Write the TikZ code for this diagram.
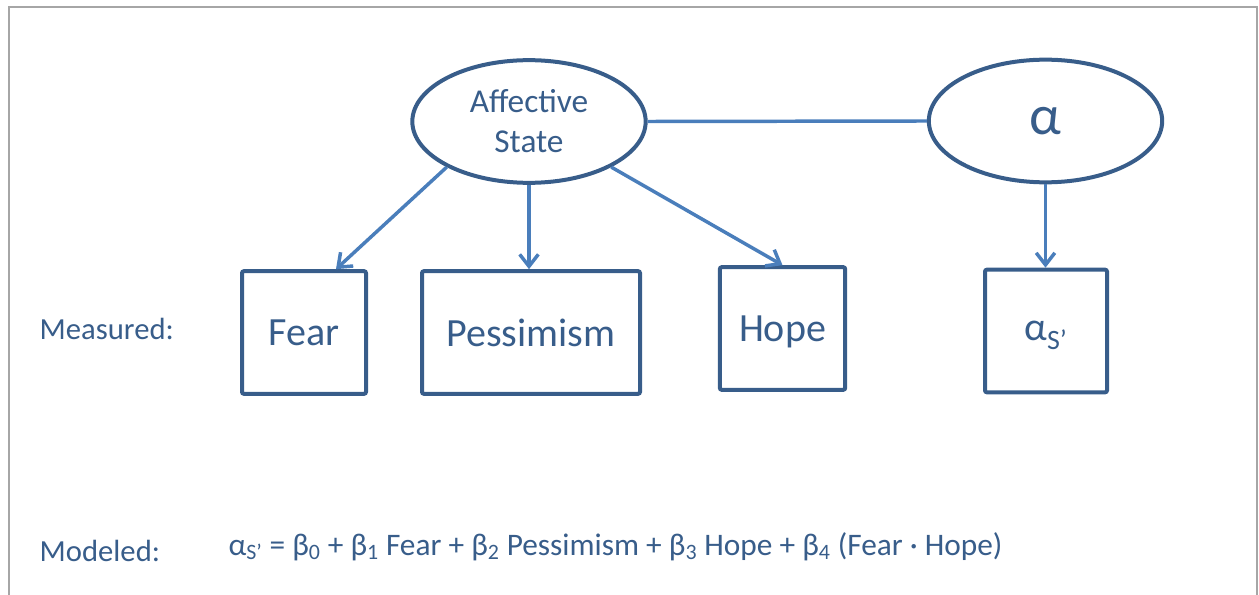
\documentclass[tikz,border=0pt]{standalone}
\usepackage{fontspec}
\setmainfont{Carlito}
\usepackage{tikz}
\usetikzlibrary{shapes,shapes.geometric}
\usetikzlibrary{arrows.meta}
\usetikzlibrary{calc}
\definecolor{outlineblue}{HTML}{385D8A}
\definecolor{arrowblue}{HTML}{4A7EBB}
\definecolor{framegray}{HTML}{A6A6A6}

\begin{document}
\begin{tikzpicture}[x=0.75pt, y=-0.75pt, color=outlineblue,
	latent/.style={ellipse, draw, line width=3pt, minimum width=175pt, minimum height=92pt, inner sep=0pt},
	measure/.style={rectangle, draw, rounded corners=1.5pt, line width=3pt, minimum height=92pt, inner sep=0pt, text depth=0pt, font=\fontsize{30}{36}\selectfont},
	link/.style={arrowblue, line width=2.6pt},
	effect/.style={link, -{Straight Barb[length=9pt, width=14pt]}},
	rowtext/.style={anchor=base west, font=\fontsize{23}{28}\selectfont}]
			\useasboundingbox (0,0) rectangle (1259,595);
			\draw[framegray, line width=1.5pt] (9,595) -- (9,7) -- (1257,7) -- (1257,595);
			% latent variables
			\node[latent, align=center, font=\fontsize{25}{30}\selectfont] (affect) at (529,121.5) {Affective\\State};
			\node[latent, font=\fontsize{42}{48}\selectfont] (alpha) at (1045.5,121) {α};
			% measured variables
			\node[measure, minimum width=93pt] (fear) at (304,332.5) {Fear};
			\node[measure, minimum width=163.5pt] (pess) at (531,332.5) {Pessimism};
			\node[measure, minimum width=94pt] (hope) at (782.5,328.5) {Hope};
			\node[measure, minimum width=91.5pt] (alphas) at (1046,331) {α\textsubscript{S’}};
			% connectors
			\draw[link] (affect.east) -- (alpha.west);
			\draw[effect] (affect.209) -- ($(fear.north west)!0.75!(fear.north east)$);
			\draw[effect] (affect.south) -- (affect.south |- pess.north);
			\draw[effect] (affect.-29) -- (hope.north);
			\draw[effect] (alpha.south) -- (alpha.south |- alphas.north);
			% row labels
			\node[rowtext] (measured) at (35,339) {Measured:};
			\node[rowtext] (modeled) at (35,561) {Modeled:};
			\node[rowtext, font=\fontsize{23.5}{28}\selectfont] (model) at (224,555) {α\textsubscript{S’} = β\textsubscript{0} + β\textsubscript{1} Fear + β\textsubscript{2} Pessimism + β\textsubscript{3} Hope + β\textsubscript{4} (Fear · Hope)};
		\end{tikzpicture}
\end{document}
